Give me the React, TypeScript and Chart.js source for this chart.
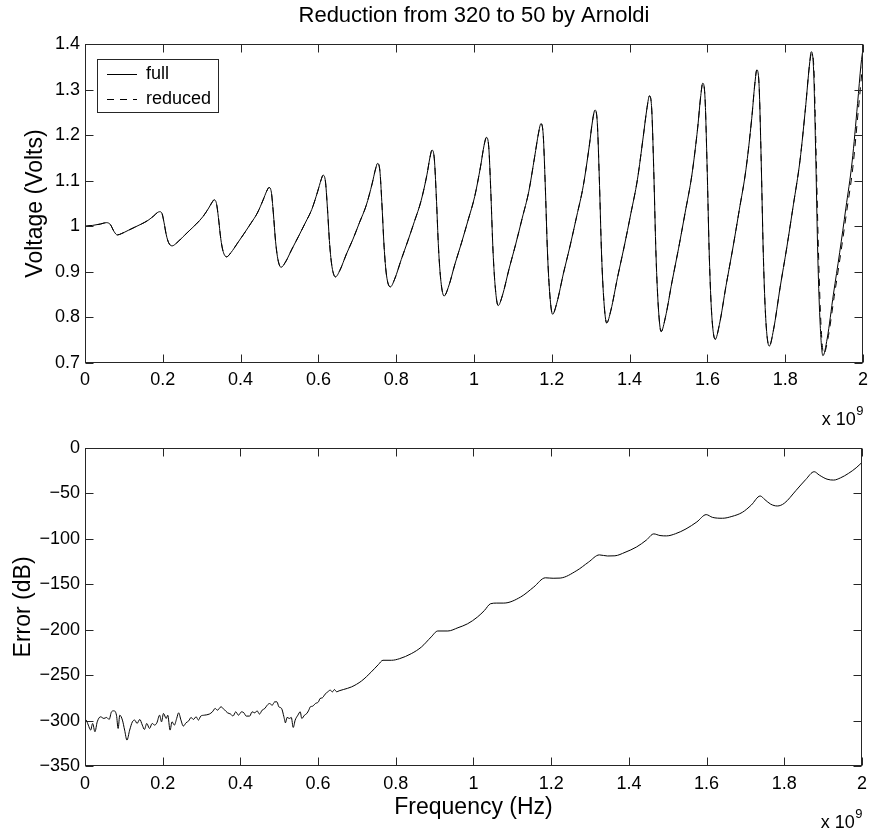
import React, { useEffect, useRef } from "react";
import { Chart, registerables } from "chart.js";

Chart.register(...registerables);

const FONT = '"Liberation Sans", Arial, Helvetica, sans-serif';
const INK = "#000000";
const FRAME = "#262626";

// ---------- data (frequency in units of 1e9 Hz) ----------
const freqFull = [
  0, 0.02, 0.04, 0.055, 0.065, 0.075, 0.083, 0.094, 0.111, 0.128, 0.145, 0.162, 0.177, 0.186,
  0.192, 0.198, 0.203, 0.209, 0.215, 0.224, 0.235, 0.252, 0.269, 0.286, 0.303, 0.318, 0.327,
  0.332, 0.338, 0.343, 0.349, 0.355, 0.364, 0.375, 0.392, 0.409, 0.426, 0.443, 0.458, 0.467,
  0.473, 0.479, 0.484, 0.49, 0.496, 0.504, 0.515, 0.532, 0.549, 0.566, 0.583, 0.598, 0.607,
  0.612, 0.618, 0.623, 0.629, 0.635, 0.644, 0.655, 0.672, 0.689, 0.706, 0.723, 0.738, 0.747,
  0.752, 0.758, 0.763, 0.769, 0.775, 0.785, 0.796, 0.813, 0.83, 0.847, 0.864, 0.879, 0.887,
  0.892, 0.898, 0.903, 0.909, 0.915, 0.923, 0.934, 0.951, 0.968, 0.985, 1.002, 1.017, 1.026,
  1.032, 1.038, 1.043, 1.049, 1.055, 1.062, 1.073, 1.09, 1.107, 1.124, 1.141, 1.156, 1.166,
  1.172, 1.178, 1.183, 1.189, 1.195, 1.202, 1.213, 1.23, 1.247, 1.264, 1.281, 1.296, 1.305,
  1.311, 1.317, 1.322, 1.328, 1.334, 1.341, 1.352, 1.369, 1.386, 1.403, 1.42, 1.435, 1.445,
  1.451, 1.457, 1.462, 1.468, 1.474, 1.481, 1.492, 1.509, 1.526, 1.543, 1.56, 1.575, 1.583,
  1.588, 1.594, 1.599, 1.605, 1.611, 1.62, 1.631, 1.648, 1.665, 1.682, 1.699, 1.714, 1.722,
  1.727, 1.733, 1.738, 1.744, 1.75, 1.759, 1.77, 1.787, 1.804, 1.821, 1.838, 1.853, 1.862,
  1.867, 1.873, 1.878, 1.884, 1.89, 1.897, 1.908, 1.924, 1.94, 1.956, 1.972, 1.986, 1.995,
  2.0,
];
const voltFull = [
  1.0, 1.002, 1.005, 1.008, 1.004, 0.988, 0.981, 0.984, 0.991, 0.998, 1.005, 1.013, 1.023, 1.03,
  1.032, 1.028, 1.009, 0.981, 0.964, 0.957, 0.963, 0.977, 0.991, 1.005, 1.021, 1.04, 1.053,
  1.058, 1.05, 1.019, 0.973, 0.945, 0.933, 0.942, 0.963, 0.984, 1.006, 1.029, 1.058, 1.077,
  1.085, 1.075, 1.031, 0.966, 0.927, 0.91, 0.921, 0.95, 0.978, 1.007, 1.037, 1.076, 1.102,
  1.112, 1.099, 1.043, 0.96, 0.911, 0.889, 0.903, 0.939, 0.972, 1.009, 1.046, 1.093, 1.126,
  1.138, 1.122, 1.054, 0.954, 0.893, 0.867, 0.884, 0.927, 0.968, 1.011, 1.056, 1.113, 1.152,
  1.167, 1.148, 1.068, 0.949, 0.879, 0.847, 0.866, 0.917, 0.964, 1.014, 1.066, 1.132, 1.178,
  1.195, 1.173, 1.081, 0.944, 0.863, 0.826, 0.848, 0.906, 0.96, 1.018, 1.077, 1.153, 1.205,
  1.225, 1.2, 1.095, 0.941, 0.849, 0.807, 0.832, 0.897, 0.957, 1.022, 1.089, 1.174, 1.233,
  1.255, 1.227, 1.11, 0.937, 0.835, 0.788, 0.816, 0.888, 0.955, 1.027, 1.102, 1.196, 1.261,
  1.286, 1.255, 1.126, 0.934, 0.821, 0.769, 0.8, 0.878, 0.952, 1.031, 1.112, 1.216, 1.287,
  1.314, 1.28, 1.14, 0.932, 0.808, 0.752, 0.785, 0.87, 0.95, 1.036, 1.124, 1.237, 1.313,
  1.343, 1.307, 1.155, 0.931, 0.797, 0.737, 0.773, 0.866, 0.953, 1.047, 1.144, 1.267, 1.351,
  1.383, 1.343, 1.176, 0.929, 0.783, 0.716, 0.754, 0.851, 0.942, 1.04, 1.141, 1.269, 1.356,
  1.39,
];
// reduced model coincides with the full one up to ~1.862e9, then departs slightly
const reducedSplitFreq = 1.862;
const freqReducedTail = [1.868, 1.874, 1.879, 1.886, 1.892, 1.899, 1.91, 1.926, 1.942, 1.958, 1.974, 1.988, 2.0];
const voltReducedTail = [1.38, 1.343, 1.178, 0.93, 0.784, 0.72, 0.754, 0.846, 0.936, 1.032, 1.13, 1.255, 1.365];

const freqError = [
  0, 0.003, 0.0085, 0.0145, 0.0196, 0.0256, 0.0315, 0.04, 0.0486, 0.0554, 0.0622, 0.0682,
  0.0742, 0.081, 0.0853, 0.0895, 0.0963, 0.102, 0.108, 0.115, 0.122, 0.128, 0.134, 0.141,
  0.1475, 0.153, 0.159, 0.166, 0.173, 0.179, 0.185, 0.192, 0.197, 0.202, 0.209, 0.213, 0.219,
  0.224, 0.23, 0.236, 0.241, 0.247, 0.253, 0.26, 0.267, 0.273, 0.279, 0.286, 0.292, 0.298,
  0.307, 0.32, 0.328, 0.335, 0.341, 0.35, 0.358, 0.367, 0.375, 0.381, 0.388, 0.395, 0.403,
  0.409, 0.415, 0.424, 0.43, 0.437, 0.443, 0.449, 0.456, 0.463, 0.469, 0.475, 0.482, 0.488,
  0.494, 0.499, 0.506, 0.512, 0.516, 0.52, 0.526, 0.531, 0.536, 0.541, 0.548, 0.554, 0.558,
  0.565, 0.571, 0.576, 0.58, 0.586, 0.593, 0.601, 0.605, 0.611, 0.618, 0.625, 0.631, 0.637,
  0.642, 0.648, 0.654, 0.665, 0.686, 0.712, 0.737, 0.755, 0.767, 0.789, 0.81, 0.84, 0.866,
  0.891, 0.908, 0.934, 0.96, 0.985, 1.01, 1.028, 1.044, 1.06, 1.078, 1.121, 1.155, 1.185,
  1.205, 1.223, 1.266, 1.296, 1.324, 1.345, 1.364, 1.39, 1.42, 1.445, 1.464, 1.48, 1.497,
  1.52, 1.547, 1.575, 1.599, 1.615, 1.641, 1.665, 1.692, 1.715, 1.738, 1.75, 1.765, 1.782,
  1.8, 1.83, 1.855, 1.877, 1.89, 1.91, 1.927, 1.945, 1.965, 1.985, 2.0,
];
const errorDb = [
  -299, -299.5, -305, -310.5, -303.2, -312.3, -301.4, -295.9, -297.7, -296.6, -298.8, -290.4,
  -289.3, -294.1, -308.7, -294.1, -299.5, -310.5, -321.5, -310.5, -301.4, -299.5, -303.2, -298.8,
  -305, -309.8, -303.2, -308.7, -303.2, -305, -302.5, -294.1, -301.4, -292.2, -297.7, -294.1, -310.5,
  -301.4, -305, -297.7, -291.5, -299.5, -306.1, -302.5, -300.3, -296.6, -298.8, -295.9, -299.5, -295.1,
  -294.1, -292.9, -290.4, -286.7, -288.6, -284.9, -287.8, -291.5, -292.9, -295.1, -290.4, -294.1, -290.4,
  -291.5, -295.1, -295.1, -290.4, -291.5, -289.3, -292.9, -288.6, -286.7, -283.1, -281.3, -283.1, -279.5,
  -279.4, -284.9, -286.7, -295.9, -302.5, -296.6, -297.7, -296.6, -307.6, -299.5, -294.1, -290.4, -297.7,
  -294.1, -292.2, -288.6, -284.9, -284.2, -281.3, -279.4, -275.8, -275, -271, -268.4, -266.6, -268.4,
  -265.9, -268.4, -267.3, -265.9, -263, -256.4, -246.5, -238.5, -233.7, -233.7, -231.9, -226.4, -219.1,
  -208.1, -201.5, -201.5, -197.9, -193.5, -186.2, -179, -171.5, -170.8, -170.8, -164.2, -153.2, -143,
  -143.5, -143.3, -135, -125.8, -117.8, -119, -118.8, -115, -109, -101.5, -94.7, -96.5, -96.9,
  -94.5, -89.2, -81.5, -73.5, -76.5, -77.5, -75.5, -71, -63, -53, -57, -62, -64,
  -61, -47, -35, -26.3, -30, -34.5, -35.5, -33, -28.2, -22, -16,
];

const freqTicks = [0, 0.2, 0.4, 0.6, 0.8, 1, 1.2, 1.4, 1.6, 1.8, 2];
const voltTicks = [0.7, 0.8, 0.9, 1, 1.1, 1.2, 1.3, 1.4];
const errorTicks = [-350, -300, -250, -200, -150, -100, -50, 0];

const titleText = "Reduction from 320 to 50 by Arnoldi";
const voltLabel = "Voltage (Volts)";
const errorLabel = "Error (dB)";
const freqLabel = "Frequency (Hz)";
const legendLabels = ["full", "reduced"];

// ---------- helpers ----------
const fmt = (v: number) => {
  const s = String(Number(v.toFixed(3)));
  return s.startsWith("-") ? "\u2212" + s.slice(1) : s;
};

const pts = (xs: number[], ys: number[]) => xs.map((x, i) => ({ x, y: ys[i] }));

type Deco = {
  title?: string;
  ylabel: string;
  ylabelX: number;
  xlabel?: string;
  xlabelY?: number;
  expBaseline: number;
  legend?: boolean;
  yTicks: number[];
};

function decoPlugin(d: Deco) {
  return {
    id: "deco",
    afterDraw(chart: any) {
      const { ctx, chartArea: a, scales } = chart;
      const xs = scales.x;
      const ys = scales.y;
      ctx.save();
      // frame
      ctx.strokeStyle = FRAME;
      ctx.lineWidth = 1;
      const L = Math.round(a.left) + 0.5;
      const R = Math.round(a.right) - 0.5;
      const T = Math.round(a.top) + 0.5;
      const B = Math.round(a.bottom) - 0.5;
      ctx.strokeRect(L, T, R - L, B - T);
      // inward ticks
      const tl = 8;
      ctx.beginPath();
      for (const v of freqTicks) {
        const px = Math.round(xs.getPixelForValue(v)) + 0.5;
        ctx.moveTo(px, B);
        ctx.lineTo(px, B - tl);
        ctx.moveTo(px, T);
        ctx.lineTo(px, T + tl);
      }
      for (const v of d.yTicks) {
        const py = Math.round(ys.getPixelForValue(v)) + 0.5;
        ctx.moveTo(L, py);
        ctx.lineTo(L + tl, py);
        ctx.moveTo(R, py);
        ctx.lineTo(R - tl, py);
      }
      ctx.stroke();

      ctx.fillStyle = INK;
      const cx = (a.left + a.right) / 2;
      const cy = (a.top + a.bottom) / 2;
      // title
      if (d.title) {
        ctx.font = `22px ${FONT}`;
        ctx.textAlign = "center";
        ctx.textBaseline = "middle";
        ctx.fillText(d.title, cx, 16);
      }
      // y label
      ctx.save();
      ctx.translate(d.ylabelX, cy);
      ctx.rotate(-Math.PI / 2);
      ctx.font = `23px ${FONT}`;
      ctx.textAlign = "center";
      ctx.textBaseline = "middle";
      ctx.fillText(d.ylabel, 0, 0);
      ctx.restore();
      // x label
      if (d.xlabel && d.xlabelY !== undefined) {
        ctx.font = `23px ${FONT}`;
        ctx.textAlign = "center";
        ctx.textBaseline = "middle";
        ctx.fillText(d.xlabel, cx, d.xlabelY);
      }
      // exponent "x 10^9"
      ctx.textAlign = "left";
      ctx.textBaseline = "alphabetic";
      ctx.font = `18px ${FONT}`;
      const base = "x 10";
      const wb = ctx.measureText(base).width;
      ctx.font = `13px ${FONT}`;
      const we = ctx.measureText("9").width;
      const x0 = a.right - wb - we;
      ctx.font = `18px ${FONT}`;
      ctx.fillText(base, x0, d.expBaseline);
      ctx.font = `13px ${FONT}`;
      ctx.fillText("9", x0 + wb + 0.5, d.expBaseline - 10);

      // legend
      if (d.legend) {
        const bx = 97.5, by = 59.5, bw = 121, bh = 53;
        ctx.fillStyle = "#ffffff";
        ctx.fillRect(bx, by, bw, bh);
        ctx.strokeStyle = FRAME;
        ctx.lineWidth = 1;
        ctx.strokeRect(bx, by, bw, bh);
        const dsets = chart.data.datasets;
        const rows = [74, 99];
        rows.forEach((ry, i) => {
          const ds = dsets[i];
          ctx.strokeStyle = ds.borderColor;
          ctx.lineWidth = ds.borderWidth;
          ctx.setLineDash(ds.borderDash || []);
          ctx.beginPath();
          ctx.moveTo(107, ry + 0.5);
          ctx.lineTo(137, ry + 0.5);
          ctx.stroke();
          ctx.setLineDash([]);
          ctx.fillStyle = INK;
          ctx.font = `18px ${FONT}`;
          ctx.textAlign = "left";
          ctx.textBaseline = "middle";
          ctx.fillText(legendLabels[i], 146, ry);
        });
      }
      ctx.restore();
    },
  };
}

function xScale(height: number, pad: number) {
  return {
    type: "linear",
    min: 0,
    max: 2,
    afterBuildTicks: (s: any) => {
      s.ticks = freqTicks.map((v) => ({ value: v }));
    },
    afterFit: (s: any) => {
      s.height = height;
    },
    grid: { display: false, drawTicks: false },
    border: { display: false },
    ticks: {
      padding: pad,
      maxRotation: 0,
      autoSkip: false,
      color: INK,
      font: { family: FONT, size: 18 },
      callback: (v: any) => fmt(Number(v)),
    },
  };
}

function yScale(min: number, max: number, ticks: number[]) {
  return {
    type: "linear",
    min,
    max,
    afterBuildTicks: (s: any) => {
      s.ticks = ticks.map((v) => ({ value: v }));
    },
    afterFit: (s: any) => {
      s.width = 85;
    },
    grid: { display: false, drawTicks: false },
    border: { display: false },
    ticks: {
      padding: 5,
      autoSkip: false,
      color: INK,
      font: { family: FONT, size: 18 },
      callback: (v: any) => fmt(Number(v)),
    },
  };
}

const TOP_H = 432;
const BOT_H = 832 - TOP_H;

export default function App() {
  const topRef = useRef<HTMLCanvasElement>(null);
  const botRef = useRef<HTMLCanvasElement>(null);

  useEffect(() => {
    const cut = freqFull.findIndex((f) => f > reducedSplitFreq);
    const reducedPts = pts(freqFull.slice(0, cut), voltFull.slice(0, cut)).concat(
      pts(freqReducedTail, voltReducedTail)
    );

    const top = new Chart(topRef.current as HTMLCanvasElement, {
      type: "line",
      data: {
        datasets: [
          {
            label: legendLabels[0],
            data: pts(freqFull, voltFull),
            borderColor: INK,
            borderWidth: 1,
            pointRadius: 0,
            cubicInterpolationMode: "monotone",
            fill: false,
          },
          {
            label: legendLabels[1],
            data: reducedPts,
            borderColor: INK,
            borderWidth: 1,
            borderDash: [7, 6],
            pointRadius: 0,
            cubicInterpolationMode: "monotone",
            fill: false,
          },
        ],
      },
      options: {
        responsive: false,
        animation: false,
        events: [],
        layout: { padding: { left: 0, right: 7, top: 44, bottom: 0 } },
        plugins: { legend: { display: false }, title: { display: false }, tooltip: { enabled: false } },
        scales: {
          x: xScale(TOP_H - 363, 6) as any,
          y: yScale(0.7, 1.4, voltTicks) as any,
        },
      },
      plugins: [
        decoPlugin({
          title: titleText,
          ylabel: voltLabel,
          ylabelX: 36,
          expBaseline: 425,
          legend: true,
          yTicks: voltTicks,
        }),
      ],
    } as any);

    const bot = new Chart(botRef.current as HTMLCanvasElement, {
      type: "line",
      data: {
        datasets: [
          {
            label: "error",
            data: pts(freqError, errorDb),
            borderColor: INK,
            borderWidth: 1,
            pointRadius: 0,
            cubicInterpolationMode: "monotone",
            fill: false,
          },
        ],
      },
      options: {
        responsive: false,
        animation: false,
        events: [],
        layout: { padding: { left: 0, right: 7, top: 447 - TOP_H, bottom: 0 } },
        plugins: { legend: { display: false }, title: { display: false }, tooltip: { enabled: false } },
        scales: {
          x: xScale(832 - 766, 7) as any,
          y: yScale(-350, 0, errorTicks) as any,
        },
      },
      plugins: [
        decoPlugin({
          ylabel: errorLabel,
          ylabelX: 24,
          xlabel: freqLabel,
          xlabelY: 808 - TOP_H,
          expBaseline: 828 - TOP_H,
          yTicks: errorTicks,
        }),
      ],
    } as any);

    return () => {
      top.destroy();
      bot.destroy();
    };
  }, []);

  return (
    <div style={{ position: "absolute", left: 0, top: 0, width: 874, height: 832, background: "#fff" }}>
      <canvas ref={topRef} width={874} height={TOP_H} style={{ position: "absolute", left: 0, top: 0, display: "block" }} />
      <canvas ref={botRef} width={874} height={BOT_H} style={{ position: "absolute", left: 0, top: TOP_H, display: "block" }} />
    </div>
  );
}
